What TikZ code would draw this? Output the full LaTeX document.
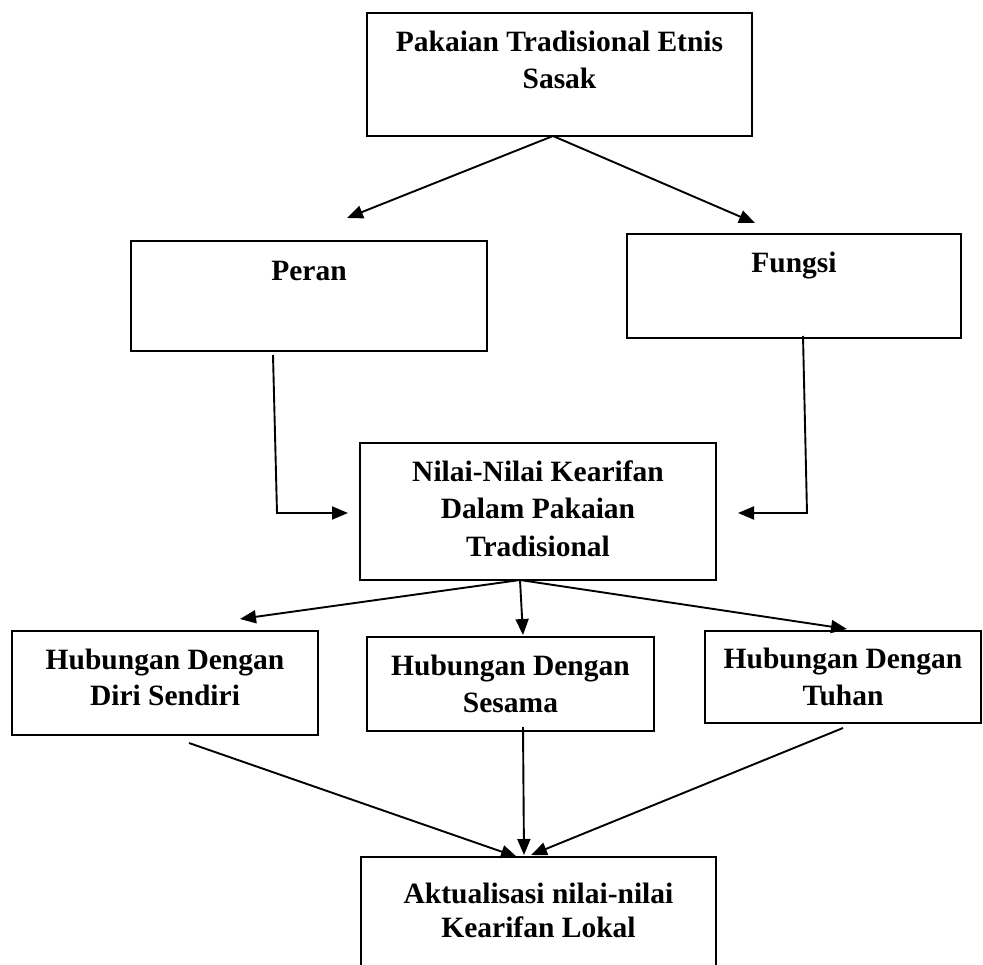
\documentclass[tikz,border=0pt]{standalone}
\usepackage{fontspec}
\setmainfont{Liberation Serif}
\usetikzlibrary{arrows.meta}
\tikzset{
  boxnode/.style={draw, line width=1.8pt, rectangle, inner sep=0pt},
  txt/.style={anchor=base, inner sep=0pt, font=\bfseries\fontsize{29.5}{37}\selectfont},
  arr/.style={line width=1.9pt, -{Triangle[length=16pt,width=13pt]}}
}
\begin{document}
\begin{tikzpicture}[x=1pt,y=-1pt]
\useasboundingbox (0,0) rectangle (983,965);
\clip (0,0) rectangle (983,965);
% boxes
\node[boxnode, minimum width=385pt, minimum height=123pt] (top) at (559.5,74.5) {};
\node[boxnode, minimum width=356pt, minimum height=110pt] (peran) at (309,296) {};
\node[boxnode, minimum width=334pt, minimum height=104pt] (fungsi) at (794,286) {};
\node[boxnode, minimum width=356pt, minimum height=137pt] (nilai) at (538,511.5) {};
\node[boxnode, minimum width=306pt, minimum height=104pt] (hub1) at (165,683) {};
\node[boxnode, minimum width=287pt, minimum height=94pt] (hub2) at (510.5,684) {};
\node[boxnode, minimum width=276pt, minimum height=92pt] (hub3) at (843,677) {};
\node[boxnode, minimum width=355pt, minimum height=114pt] (akt) at (538.5,914) {};
% texts
\node[txt] (topA) at (559.5,52) {Pakaian Tradisional Etnis};
\node[txt] (topB) at (559.5,89) {Sasak};
\node[txt] (peranT) at (309,281) {Peran};
\node[txt] (fungsiT) at (794,273) {Fungsi};
\node[txt] (nilaiA) at (538,482) {Nilai-Nilai Kearifan};
\node[txt] (nilaiB) at (538,518.5) {Dalam Pakaian};
\node[txt] (nilaiC) at (538,556) {Tradisional};
\node[txt] (hubAa) at (165,669) {Hubungan Dengan};
\node[txt] (hubAb) at (165,705.5) {Diri Sendiri};
\node[txt] (hubBa) at (510.5,675) {Hubungan Dengan};
\node[txt] (hubBb) at (510.5,712) {Sesama};
\node[txt] (hubCa) at (843,668) {Hubungan Dengan};
\node[txt] (hubCb) at (843,705) {Tuhan};
\node[txt] (aktA) at (538.5,903) {Aktualisasi nilai-nilai};
\node[txt] (aktB) at (538.5,937) {Kearifan Lokal};
% connector end points
\coordinate (topS) at (553,136);
\coordinate (peranIn) at (347,218);
\coordinate (fungsiIn) at (755,223);
\coordinate (peranS) at (273,355);
\coordinate (peranC) at (277,513);
\coordinate (nilaiW) at (348,513);
\coordinate (fungsiS) at (803,336);
\coordinate (fungsiC) at (807,513);
\coordinate (nilaiE) at (738,513);
\coordinate (nilaiS) at (520,580);
\coordinate (hub1In) at (240,619);
\coordinate (hub2In) at (523,635);
\coordinate (hub3In) at (847,629);
\coordinate (hub1S) at (189,743);
\coordinate (hub2S) at (523,727);
\coordinate (hub3S) at (843,728);
\coordinate (aktInL) at (517,857);
\coordinate (aktInM) at (524,855);
\coordinate (aktInR) at (531,855);
% connectors
\draw[arr] (topS) -- (peranIn);
\draw[arr] (topS) -- (fungsiIn);
\draw[arr] (peranS) -- (peranC) -- (nilaiW);
\draw[arr] (fungsiS) -- (fungsiC) -- (nilaiE);
\draw[arr] (nilaiS) -- (hub1In);
\draw[arr] (nilaiS) -- (hub2In);
\draw[arr] (nilaiS) -- (hub3In);
\draw[arr] (hub1S) -- (aktInL);
\draw[arr] (hub2S) -- (aktInM);
\draw[arr] (hub3S) -- (aktInR);
\end{tikzpicture}
\end{document}
